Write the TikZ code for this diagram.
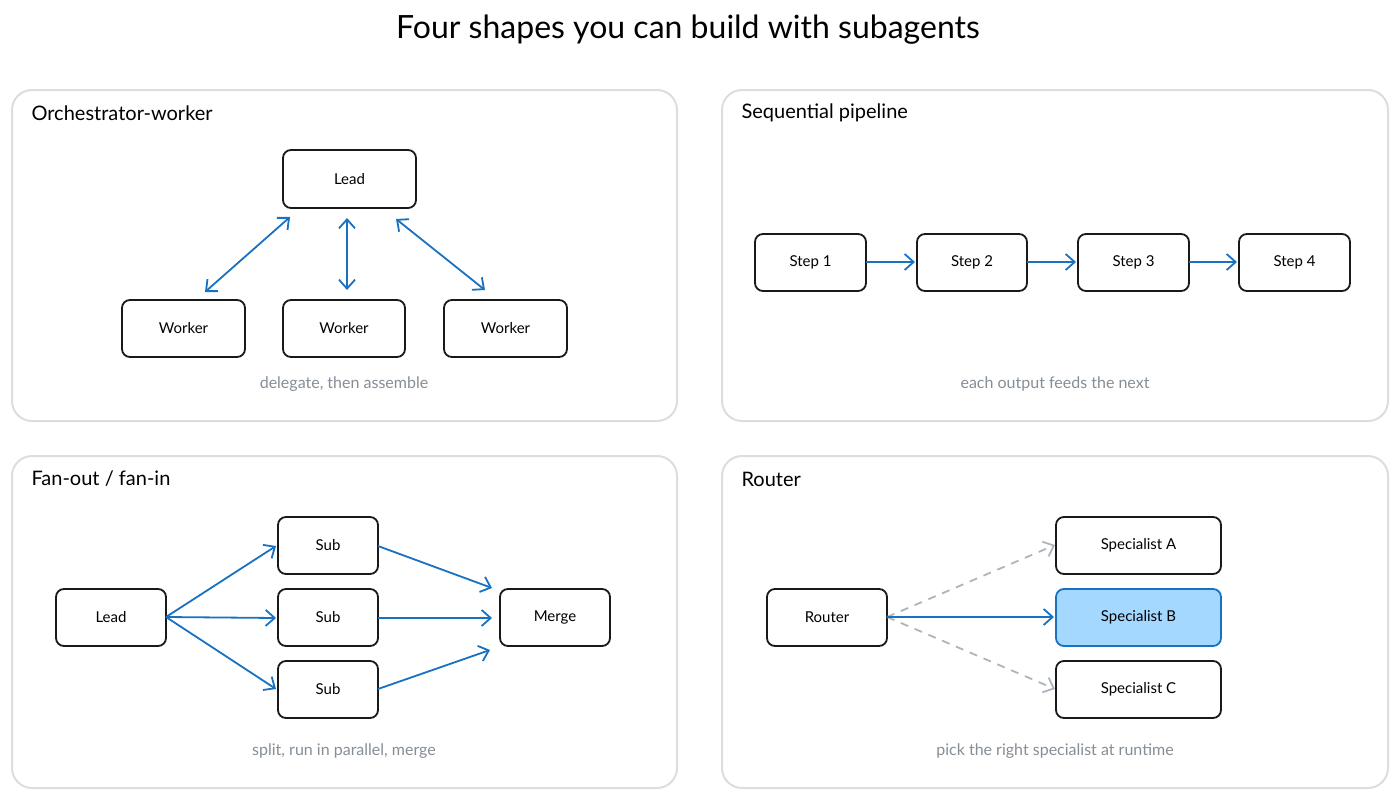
\documentclass[tikz,border=0pt]{standalone}
\usepackage{fontspec}
\setmainfont{Lato}
\usetikzlibrary{arrows.meta}
\definecolor{panel}{HTML}{DCDDE0}
\definecolor{ablue}{HTML}{1971C2}
\definecolor{lblue}{HTML}{A5D8FF}
\definecolor{capg}{HTML}{868E96}
\definecolor{dgray}{HTML}{ADB5BD}
\tikzset{
  x=1pt,y=-1pt,
  panelbox/.style={draw=panel,line width=2pt,rounded corners=20pt},
  box/.style={draw=black!90,line width=1.8pt,rounded corners=8pt,fill=white},
  lbl/.style={font=\fontsize{15}{18}\selectfont},
  ptitle/.style={font=\fontsize{20}{24}\selectfont,anchor=west},
  captxt/.style={font=\fontsize{16}{19}\selectfont,text=capg},
  arr/.style={draw=ablue,line width=1.8pt,-{Straight Barb[length=9pt,width=16pt]}},
  darr/.style={draw=ablue,line width=1.8pt,{Straight Barb[length=9pt,width=16pt]}-{Straight Barb[length=9pt,width=16pt]}},
  garr/.style={draw=dgray,line width=1.8pt,dash pattern=on 8pt off 7pt,-{Straight Barb[length=9pt,width=16pt]}}
}
\begin{document}
\begin{tikzpicture}
\fill[white] (0,0) rectangle (1400,800);
\useasboundingbox (0,0) rectangle (1400,800);
\node[font=\fontsize{32}{38}\selectfont] (title) at (688,30) {Four shapes you can build with subagents};
% panels
\draw[panelbox] (12,90) rectangle (677,421);
\draw[panelbox] (722,90) rectangle (1388,421);
\draw[panelbox] (12,456) rectangle (677,788);
\draw[panelbox] (722,456) rectangle (1388,788);
\node[ptitle] (t1) at (28,113) {Orchestrator-worker};
\node[ptitle] (t2) at (738,113) {Sequential pipeline};
\node[ptitle] (t3) at (28,479) {Fan-out / fan-in};
\node[ptitle] (t4) at (738,479) {Router};
% panel 1
\draw[box] (283,150) rectangle (416,208); \node[lbl] (lead) at (349.5,179) {Lead};
\draw[box] (122,300) rectangle (245,357); \node[lbl] (w1) at (183.5,328) {Worker};
\draw[box] (283,300) rectangle (405,357); \node[lbl] (w2) at (344,328) {Worker};
\draw[box] (444,300) rectangle (567,357); \node[lbl] (w3) at (505.5,328) {Worker};
\coordinate (a1) at (290,217); \coordinate (b1) at (205,292);
\coordinate (a2) at (347,218); \coordinate (b2) at (347,290);
\coordinate (a3) at (396,219); \coordinate (b3) at (485,290);
\draw[darr] (a1) -- (b1);
\draw[darr] (a2) -- (b2);
\draw[darr] (a3) -- (b3);
\node[captxt] (c1) at (344,384) {delegate, then assemble};
% panel 2
\draw[box] (755,234) rectangle (866,291); \node[lbl] (s1) at (810.5,262) {Step 1};
\draw[box] (917,234) rectangle (1027,291); \node[lbl] (s2) at (972,262) {Step 2};
\draw[box] (1078,234) rectangle (1189,291); \node[lbl] (s3) at (1133.5,262) {Step 3};
\draw[box] (1239,234) rectangle (1350,291); \node[lbl] (s4) at (1294.5,262) {Step 4};
\coordinate (p1) at (866,262); \coordinate (q1) at (915,262);
\coordinate (p2) at (1027,262); \coordinate (q2) at (1076,262);
\coordinate (p3) at (1189,262); \coordinate (q3) at (1237,262);
\draw[arr] (p1) -- (q1); \draw[arr] (p2) -- (q2); \draw[arr] (p3) -- (q3);
\node[captxt] (c2) at (1055,384) {each output feeds the next};
% panel 3
\draw[box] (56,589) rectangle (166,646); \node[lbl] (lead2) at (111,617) {Lead};
\draw[box] (278,517) rectangle (378,574); \node[lbl] (sub1) at (328,545) {Sub};
\draw[box] (278,589) rectangle (378,646); \node[lbl] (sub2) at (328,617) {Sub};
\draw[box] (278,661) rectangle (378,718); \node[lbl] (sub3) at (328,689) {Sub};
\draw[box] (500,589) rectangle (610,646); \node[lbl] (merge) at (555,617) {Merge};
\coordinate (lo) at (166,617);
\coordinate (i1) at (276,546); \coordinate (i2) at (276,618); \coordinate (i3) at (276,689);
\draw[arr] (lo) -- (i1); \draw[arr] (lo) -- (i2); \draw[arr] (lo) -- (i3);
\coordinate (o1) at (378,546); \coordinate (o2) at (378,618); \coordinate (o3) at (378,689);
\coordinate (m1) at (492,588); \coordinate (m2) at (492,618); \coordinate (m3) at (490,650);
\draw[arr] (o1) -- (m1); \draw[arr] (o2) -- (m2); \draw[arr] (o3) -- (m3);
\node[captxt] (c3) at (344,751) {split, run in parallel, merge};
% panel 4
\draw[box] (767,589) rectangle (887,646); \node[lbl] (router) at (827,617) {Router};
\draw[box] (1056,517) rectangle (1221,574); \node[lbl] (spa) at (1138.5,545) {Specialist A};
\draw[box,fill=lblue,draw=ablue] (1056,589) rectangle (1221,646); \node[lbl] (spb) at (1138.5,617) {Specialist B};
\draw[box] (1056,661) rectangle (1221,718); \node[lbl] (spc) at (1138.5,689) {Specialist C};
\coordinate (ro) at (887,617);
\coordinate (ta) at (1055,545); \coordinate (tb) at (1054,617); \coordinate (tc) at (1055,689);
\draw[garr] (ro) -- (ta);
\draw[garr] (ro) -- (tc);
\draw[arr] (ro) -- (tb);
\node[captxt] (c4) at (1055,751) {pick the right specialist at runtime};
\end{tikzpicture}
\end{document}
